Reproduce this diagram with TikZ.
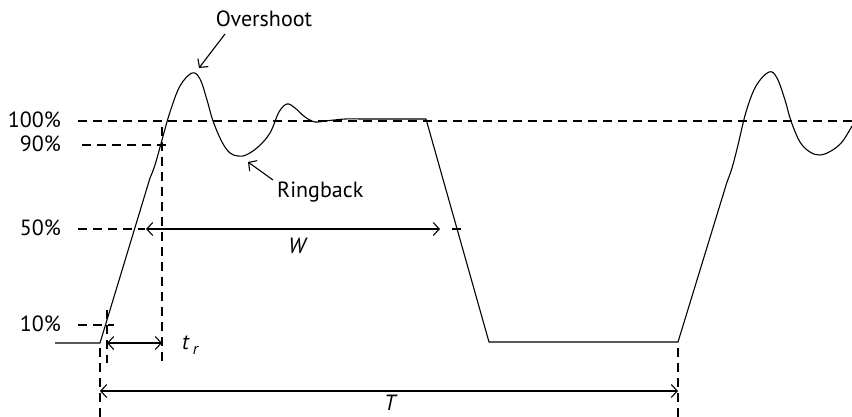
\documentclass[tikz,border=0pt]{standalone}
\usepackage{fontspec}
\setmainfont{PT Sans}
\usetikzlibrary{arrows.meta}
\begin{document}
\begin{tikzpicture}[x=1pt,y=-1pt,
  wave/.style={line width=1.1pt,line join=round},
  guide/.style={line width=1.1pt,dash pattern=on 9pt off 6pt},
  dim/.style={line width=1.1pt,{Straight Barb[length=6pt,width=13pt]}-{Straight Barb[length=6pt,width=13pt]}},
  callout/.style={line width=1.1pt,-{Straight Barb[length=6pt,width=13pt]}},
  lbl/.style={font=\fontsize{22}{24}\selectfont,inner sep=0pt},
  pct/.style={lbl,anchor=base east}]
\useasboundingbox (0,0) rectangle (852,417);
% percentage labels
\node[pct] (p100) at (61,127.5) {100\%};
\node[pct] (p90) at (61,151.5) {90\%};
\node[pct] (p50) at (61,235.5) {50\%};
\node[pct] (p10) at (61,331.5) {10\%};
% guide lines
\coordinate (g100a) at (78,121); \coordinate (g100b) at (852,121);
\coordinate (g90a) at (82,145); \coordinate (g90b) at (168,145);
\coordinate (g50a) at (78,229); \coordinate (g50b) at (145,229);
\coordinate (g50c) at (452,229); \coordinate (g50d) at (463,229);
\coordinate (g10a) at (78,325); \coordinate (g10b) at (114,325);
\draw[guide] (g100a) -- (g100b);
\draw[guide] (g90a) -- (g90b);
\draw[guide] (g50a) -- (g50b);
\draw[guide] (g50c) -- (g50d);
\draw[guide] (g10a) -- (g10b);
% vertical guides
\coordinate (v1a) at (100,348); \coordinate (v1b) at (100,417);
\coordinate (v2a) at (107,310); \coordinate (v2b) at (107,363);
\coordinate (v3a) at (162,127); \coordinate (v3b) at (162,363);
\coordinate (v4a) at (678,348); \coordinate (v4b) at (678,417);
\draw[guide] (v1a) -- (v1b);
\draw[guide] (v2a) -- (v2b);
\draw[guide] (v3a) -- (v3b);
\draw[guide] (v4a) -- (v4b);
% waveform
\draw[wave] (55,343) -- (100,343) -- (150,178)
  plot[smooth,tension=0.6] coordinates {(150,178) (155,165) (162,140) (170,112) (180,86) (192,73) (200,79) (207,100) (213,121) (222,142) (230,153) (238,156) (246,155) (258,147) (270,133) (279,112) (287,104) (295,108) (305,117) (315,122) (325,121) (345,119) (360,119)}
  -- (426,119) -- (489,342) -- (678,342) -- (727,182)
  plot[smooth,tension=0.6] coordinates {(727,182) (732,168) (738,145) (746,112) (756,86) (769,72) (777,78) (785,100) (791,121) (800,142) (810,152) (820,155) (831,151) (842,142) (852,126)};
% dimension arrows
\coordinate (tra) at (107,343); \coordinate (trb) at (162,343);
\coordinate (wa) at (146,229); \coordinate (wb) at (440,229);
\coordinate (ta) at (100,391); \coordinate (tb) at (678,391);
\draw[dim] (tra) -- (trb);
\draw[dim] (wa) -- (wb);
\draw[dim] (ta) -- (tb);
\node[lbl,anchor=base west] (tr) at (182,349) {\itshape t\,\raisebox{-5pt}{\fontsize{16}{18}\selectfont r}};
\node[lbl,anchor=base] (W) at (297,253) {\itshape W};
\node[lbl,anchor=base] (T) at (390,410) {\itshape T};
% callouts
\node[lbl,anchor=base] (over) at (264,27) {Overshoot};
\node[lbl,anchor=base west] (ring) at (277,197) {Ringback};
\coordinate (oa) at (225,34); \coordinate (ob) at (199,68);
\coordinate (ra) at (273,180); \coordinate (rb) at (248,162);
\draw[callout] (oa) -- (ob);
\draw[callout] (ra) -- (rb);
\end{tikzpicture}
\end{document}
